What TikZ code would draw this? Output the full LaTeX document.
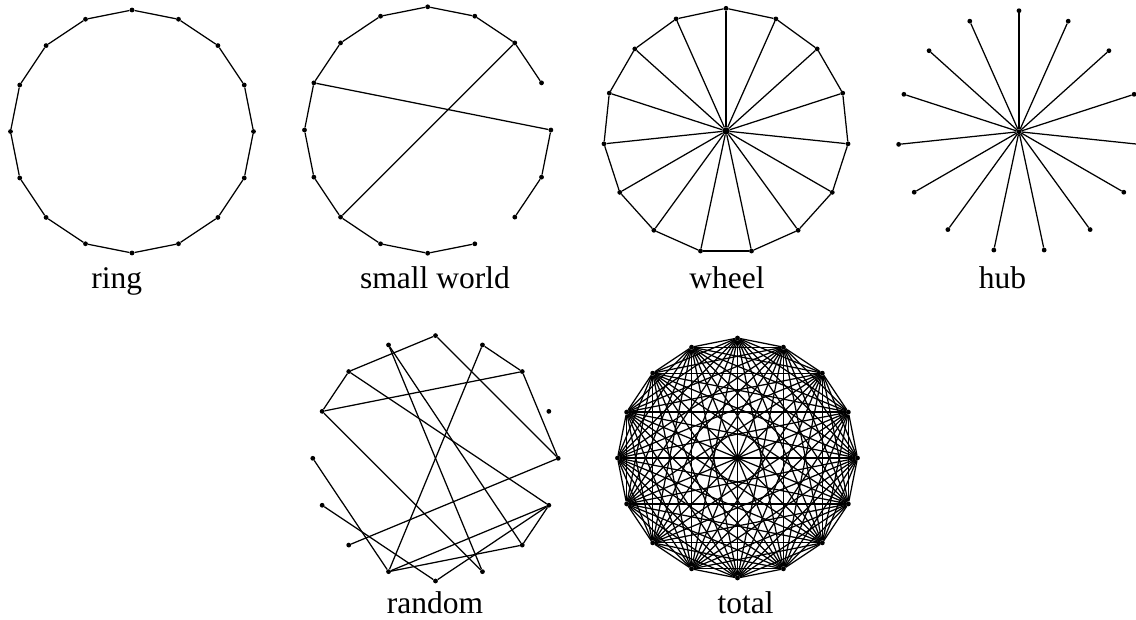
\documentclass[tikz,border=0pt]{standalone}
\usepackage{fontspec}
\setmainfont{Liberation Serif}
\begin{document}
\begin{tikzpicture}[x=1pt,y=-1pt,
  dot/.style={circle,fill=black,inner sep=0pt,minimum size=4.8pt},
  bigdot/.style={circle,fill=black,inner sep=0pt,minimum size=7.5pt},
  edge/.style={draw=black,line width=1.25pt},
  lbl/.style={anchor=base,inner sep=0pt,font=\fontsize{31.5}{37}\selectfont}]
\useasboundingbox (0,0) rectangle (1136,619);

% ring
\begin{scope}[shift={(132,131.5)}]
\foreach \k in {0,...,15} \node[dot] (r\k) at ({-90+22.5*\k}:121.5) {};
\end{scope}
\foreach \k [evaluate=\k as \n using {int(mod(\k+1,16))}] in {0,...,15}
  \draw[edge] (r\k) -- (r\n);
\node[lbl] (lring) at (116.7,288) {ring};

% small world
\begin{scope}[shift={(427.7,130)}]
\foreach \k in {0,...,15} \node[dot] (s\k) at ({-90+22.5*\k}:123.2) {};
\end{scope}
\foreach \a/\b in {0/1,1/2,2/3,4/5,5/6,7/8,8/9,9/10,10/11,11/12,12/13,13/14,14/15,15/0,13/4,2/10}
  \draw[edge] (s\a) -- (s\b);
\node[lbl] (lsmall) at (435,288) {small world};

% wheel
\begin{scope}[shift={(726,131)}]
\node[bigdot] (wc) at (0,0) {};
\foreach \k in {0,...,14} \node[dot] (w\k) at ({-90+24*\k}:122.7) {};
\end{scope}
\foreach \k [evaluate=\k as \n using {int(mod(\k+1,15))}] in {0,...,14}{
  \draw[edge] (w\k) -- (w\n);
  \draw[edge] (wc) -- (w\k);
}
\node[lbl] (lwheel) at (727,288) {wheel};

% hub
\begin{scope}[shift={(1019,131.7)}]
\node[dot] (hc) at (0,0) {};
\foreach \k in {0,...,14} \node[dot] (h\k) at ({-90+24*\k}:121) {};
\end{scope}
\foreach \k in {0,...,14} \draw[edge] (hc) -- (h\k);
\node[lbl] (lhub) at (1002.5,288) {hub};

% random
\begin{scope}[shift={(435.5,458.3)}]
\foreach \k in {0,...,15} \node[dot] (q\k) at ({-90+22.5*\k}:122.7) {};
\end{scope}
\foreach \a/\b in {0/14,0/4,15/7,15/6,1/2,1/9,14/13,14/5,13/2,13/7,2/4,4/10,12/9,11/8,8/5,9/5,9/6,6/5}
  \draw[edge] (q\a) -- (q\b);
\node[lbl] (lrandom) at (435,613) {random};

% total
\begin{scope}[shift={(737.5,458)}]
\foreach \k in {0,...,15} \node[dot] (t\k) at ({-90+22.5*\k}:120) {};
\end{scope}
\foreach \i in {0,...,14}{
  \pgfmathtruncatemacro\sstart{\i+1}
  \foreach \j in {\sstart,...,15} \draw[edge] (t\i) -- (t\j);
}
\node[lbl] (ltotal) at (745.5,613) {total};
\end{tikzpicture}
\end{document}
